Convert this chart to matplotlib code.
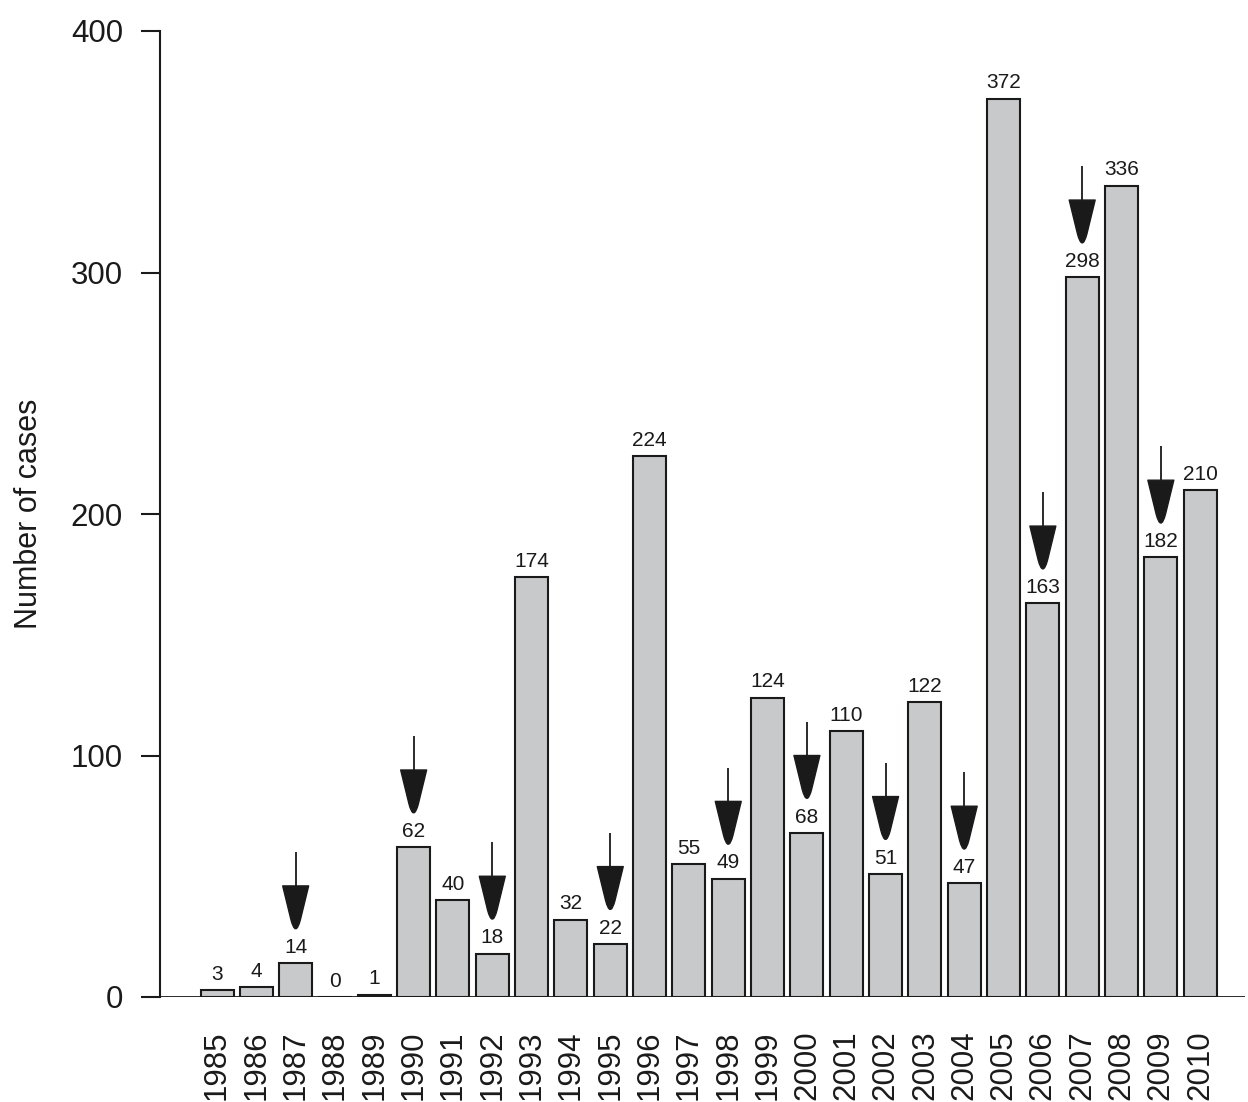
import matplotlib
matplotlib.use("Agg")
import matplotlib.pyplot as plt
from matplotlib.path import Path
from matplotlib.patches import PathPatch

plt.rcParams['font.family'] = ['Liberation Sans', 'DejaVu Sans']

years = [str(y) for y in range(1985, 2011)]
cases = [3, 4, 14, 0, 1, 62, 40, 18, 174, 32, 22, 224, 55, 49, 124, 68, 110,
         51, 122, 47, 372, 163, 298, 336, 182, 210]
arrow_years = ['1987', '1990', '1992', '1995', '1998', '2000', '2002', '2004',
               '2006', '2007', '2009']
yticks = [0, 100, 200, 300, 400]

fig = plt.figure(figsize=(12.48, 11.02), dpi=100)
ax = fig.add_axes([160/1248, 1 - 997/1102, (1245-160)/1248, (997-31)/1102])

x = list(range(len(years)))
ax.bar(x, cases, width=0.84, color='#c8c9cb', edgecolor='#1a1a1a', linewidth=1.5,
       zorder=2)

for xi, v in zip(x, cases):
    ax.annotate(str(v), (xi, v), xytext=(0, 4.5), textcoords='offset points',
                ha='center', va='bottom', fontsize=15, color='#1a1a1a')

for yr in arrow_years:
    i = years.index(yr)
    v = cases[i]
    ax.plot([i, i], [v + 32, v + 46], color='#1a1a1a', lw=1.3, zorder=3,
            solid_capstyle='butt')
    verts = [(i - 0.33, v + 32), (i + 0.33, v + 32), (i + 0.12, v + 18),
             (i, v + 10.5), (i - 0.12, v + 18), (i - 0.33, v + 32)]
    codes = [Path.MOVETO, Path.LINETO, Path.LINETO, Path.CURVE3, Path.CURVE3,
             Path.CLOSEPOLY]
    ax.add_patch(PathPatch(Path(verts, codes), facecolor='#1a1a1a',
                           edgecolor='#1a1a1a', lw=1.0, joinstyle='round',
                           zorder=3))

ax.axhline(0, color='#1a1a1a', lw=1.3, zorder=1)

ax.set_xlim(-1.45, 26.14)
ax.set_ylim(0, 400)
ax.set_yticks(yticks)
ax.set_yticklabels([str(t) for t in yticks])
ax.set_xticks(x)
ax.set_xticklabels(years, rotation=90, va='top', ha='center')
ax.tick_params(axis='x', length=0, pad=24, labelsize=22.5, colors='#1a1a1a')
ax.tick_params(axis='y', length=13.7, width=1.5, pad=13, labelsize=22.5,
               colors='#1a1a1a')

for s in ['top', 'right', 'bottom']:
    ax.spines[s].set_visible(False)
ax.spines['left'].set_bounds(0, 400)
ax.spines['left'].set_linewidth(1.5)
ax.spines['left'].set_color('#1a1a1a')

ax.set_ylabel('Number of cases', fontsize=22, color='#1a1a1a')
ax.yaxis.set_label_coords(-(160 - 44) / (1245 - 160), 0.5)

fig.savefig('out.png', dpi=100)
